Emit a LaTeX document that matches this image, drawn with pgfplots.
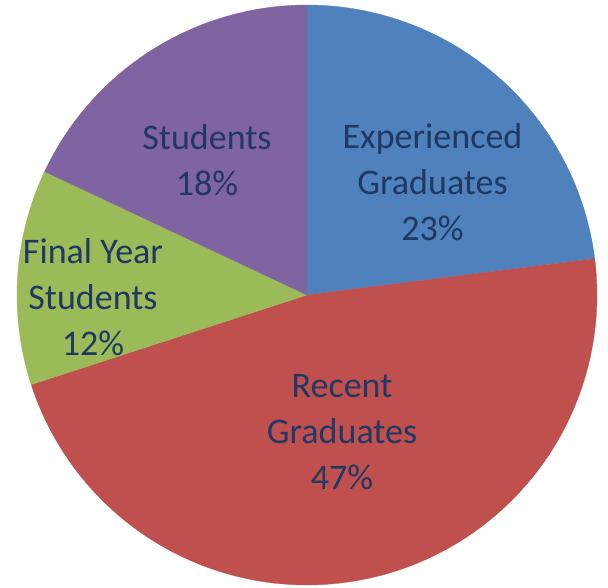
\documentclass[border=0pt]{standalone}
\usepackage{fontspec}
\setmainfont{Carlito}
\usepackage{pgfplots}
\usepackage{pgfplotstable}
\pgfplotsset{compat=1.18}
\definecolor{cBlue}{HTML}{4F81BD}
\definecolor{cRed}{HTML}{C0504D}
\definecolor{cGreen}{HTML}{9BBB59}
\definecolor{cPurple}{HTML}{8064A2}
\definecolor{cText}{HTML}{1F3864}
\pgfplotstableread{
name value
Experienced 23
Recent 47
Final 12
Students 18
}\piedata
\pgfplotstablegetelem{0}{value}\of\piedata\edef\vA{\pgfplotsretval}%
\pgfplotstablegetelem{1}{value}\of\piedata\edef\vB{\pgfplotsretval}%
\pgfplotstablegetelem{2}{value}\of\piedata\edef\vC{\pgfplotsretval}%
\pgfplotstablegetelem{3}{value}\of\piedata\edef\vD{\pgfplotsretval}%
\pgfmathsetmacro{\aA}{90-3.6*\vA}%
\pgfmathsetmacro{\aB}{\aA-3.6*\vB}%
\pgfmathsetmacro{\aC}{\aB-3.6*\vC}%
\pgfmathsetmacro{\aD}{\aC-3.6*\vD}%
\tikzset{lbl/.style={font=\fontsize{36bp}{46bp}\selectfont, text=cText, align=center}}
\begin{document}%
\begin{tikzpicture}
\begin{axis}[
  width=608bp, height=588bp, scale only axis,
  xmin=0, xmax=608, ymin=0, ymax=588,
  hide axis, ticks=none, clip=false,
]
\coordinate (bl) at (axis cs:0,0);
\coordinate (tr) at (axis cs:608,588);
\addplot[fill=cBlue, draw=cBlue, line width=0.3pt, domain=\aA:90, samples=60, variable=\t]
  ({307+290*cos(\t)}, {293+290*sin(\t)}) -- (307,293) -- cycle;
\addplot[fill=cRed, draw=cRed, line width=0.3pt, domain=\aB:\aA, samples=120, variable=\t]
  ({307+290*cos(\t)}, {293+290*sin(\t)}) -- (307,293) -- cycle;
\addplot[fill=cGreen, draw=cGreen, line width=0.3pt, domain=\aC:\aB, samples=40, variable=\t]
  ({307+290*cos(\t)}, {293+290*sin(\t)}) -- (307,293) -- cycle;
\addplot[fill=cPurple, draw=cPurple, line width=0.3pt, domain=\aD:\aC, samples=60, variable=\t]
  ({307+290*cos(\t)}, {293+290*sin(\t)}) -- (307,293) -- cycle;
\node[lbl] at (axis cs:432.5,406) {Experienced\\Graduates\\23\%};
\node[lbl] at (axis cs:342,156) {Recent\\Graduates\\47\%};
\node[lbl] at (axis cs:93,291) {Final Year\\Students\\12\%};
\node[lbl] at (axis cs:207,428) {Students\\18\%};
\end{axis}
\pgfresetboundingbox
\path (bl) rectangle (tr);
\end{tikzpicture}%
\end{document}
